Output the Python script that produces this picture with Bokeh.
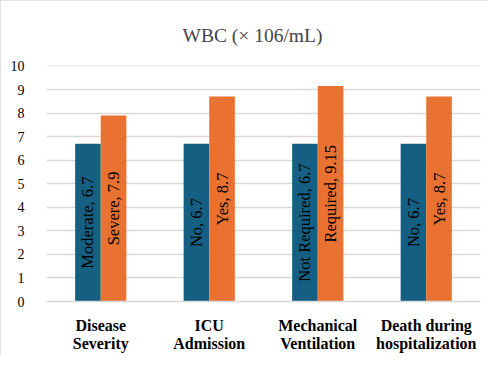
import math
from bokeh.plotting import figure
from bokeh.models import ColumnDataSource, Range1d, FixedTicker
from bokeh.core.properties import value
from bokeh.embed import file_html
from bokeh.resources import INLINE

groups = ["Disease\nSeverity", "ICU\nAdmission", "Mechanical\nVentilation", "Death during\nhospitalization"]
first_names = ["Moderate", "No", "Not Required", "No"]
first_values = [6.7, 6.7, 6.7, 6.7]
second_names = ["Severe", "Yes", "Required", "Yes"]
second_values = [7.9, 8.7, 9.15, 8.7]
y_ticks = list(range(0, 11))

BLUE = "#156082"
ORANGE = "#E97132"
GRID = "#d9d9d9"
SERIF = "'Times New Roman', 'Liberation Serif', 'DejaVu Serif', serif"

bar_w = 0.236
centers = [i + 0.5 for i in range(len(groups))]

src1 = ColumnDataSource(dict(
    x=[c - bar_w / 2 for c in centers], top=first_values,
    ym=[v / 2 for v in first_values],
    lab=[f"{n}, {v:g}" for n, v in zip(first_names, first_values)]))
src2 = ColumnDataSource(dict(
    x=[c + bar_w / 2 for c in centers], top=second_values,
    ym=[v / 2 for v in second_values],
    lab=[f"{n}, {v:g}" for n, v in zip(second_names, second_values)]))

p = figure(width=488, height=355, output_backend="svg", toolbar_location=None,
           x_range=Range1d(0, 4), y_range=Range1d(0, 10.02),
           min_border_left=46, min_border_right=8, min_border_top=65, min_border_bottom=48)
p.outline_line_color = None
p.border_fill_color = "white"
p.background_fill_color = "white"
p.styles = {"outline": "2px solid #d9d9d9", "outline-offset": "-2px"}

p.title.text = "WBC (× 106/mL)"
p.title.align = "left"
p.title.offset = 136
p.title.text_font = SERIF
p.title.text_font_style = "normal"
p.title.text_font_size = "19.5px"
p.title.standoff = 40

p.vbar(x="x", top="top", width=bar_w, bottom=0, source=src1, color=BLUE, line_color=None)
p.vbar(x="x", top="top", width=bar_w, bottom=0, source=src2, color=ORANGE, line_color=None)

for s in (src1, src2):
    p.text(x="x", y="ym", text="lab", source=s, angle=math.pi / 2,
           text_align="center", text_baseline="middle",
           text_font=value(SERIF), text_font_size="16.5px", text_color="black")

p.xaxis.ticker = FixedTicker(ticks=centers)
p.xaxis.major_label_overrides = {c: g for c, g in zip(centers, groups)}
p.xaxis.major_label_text_font = SERIF
p.xaxis.major_label_text_font_style = "bold"
p.xaxis.major_label_text_font_size = "16px"
p.xaxis.major_label_text_color = "black"
p.xaxis.major_label_text_line_height = 1.1
p.xaxis.major_tick_line_color = None
p.xaxis.minor_tick_line_color = None
p.xaxis.axis_line_color = GRID
p.xaxis.axis_line_width = 1.5
p.xaxis.major_label_standoff = 9

p.yaxis.ticker = FixedTicker(ticks=y_ticks)
p.yaxis.major_label_text_font = SERIF
p.yaxis.major_label_text_font_style = "normal"
p.yaxis.major_label_text_font_size = "14px"
p.yaxis.major_label_text_color = "black"
p.yaxis.major_tick_line_color = None
p.yaxis.minor_tick_line_color = None
p.yaxis.axis_line_color = None
p.yaxis.major_label_standoff = 16

p.xgrid.grid_line_color = None
p.ygrid.grid_line_color = GRID
p.ygrid.grid_line_width = 1.5

open("out.html", "w").write(file_html(p, INLINE))
